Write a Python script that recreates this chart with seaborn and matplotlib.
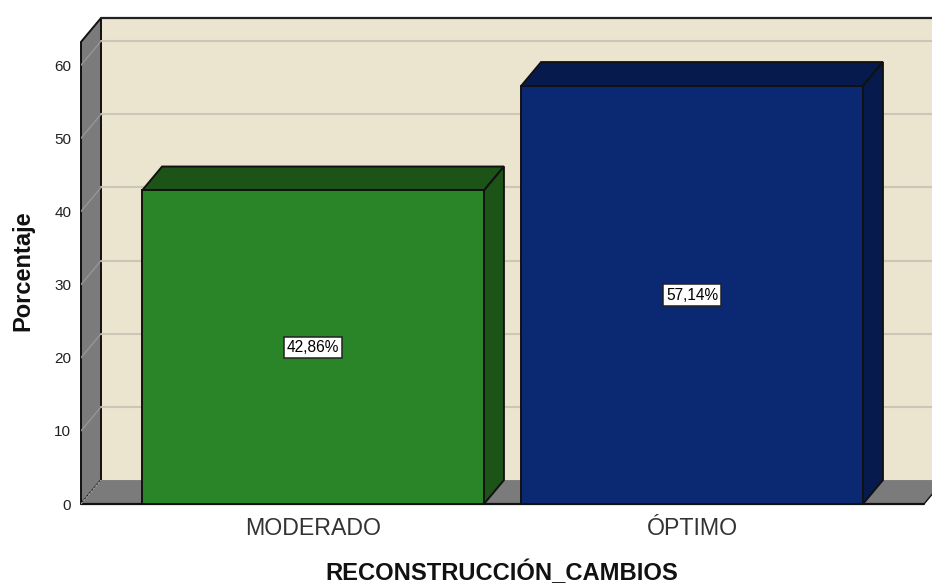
import matplotlib
matplotlib.use("Agg")
import matplotlib.pyplot as plt
from matplotlib.patches import Polygon, Rectangle
import pandas as pd
import seaborn as sns

categories = ["MODERADO", "ÓPTIMO"]
percentages = [42.86, 57.14]
value_labels = ["42,86%", "57,14%"]
y_ticks = [0, 10, 20, 30, 40, 50, 60]
x_title = "RECONSTRUCCIÓN_CAMBIOS"
y_title = "Porcentaje"

FRONT = ["#2A8529", "#0A2972"]
DARK = ["#1C5317", "#061A4E"]
WALL = "#EBE5CF"
SIDE = "#7B7B7B"
GRID = "#CBC6B8"
FONT = "Liberation Sans"

sns.set_theme(style="white")
plt.rcParams["font.family"] = [FONT, "DejaVu Sans"]

W, H = 932, 585
PX = 7.33
fig = plt.figure(figsize=(W / 100, H / 100), dpi=100, facecolor="white")
ax = fig.add_axes([81 / W, (H - 504) / H, (W - 81) / W, 486 / H])

df = pd.DataFrame({"cat": categories, "pct": percentages})
sns.barplot(data=df, x="cat", y="pct", hue="cat", palette=FRONT, legend=False,
            width=0.902, edgecolor="#111111", linewidth=1.4, saturation=1,
            zorder=5, ax=ax)

dx, dy = 20 / 379, 24 / PX        # depth of the 3-D box in data units
x0 = (81 - 313) / 379
x1 = (924 - 313) / 379
top = (504 - 41) / PX
xlim_right = (932 - 313) / 379
ax.set_xlim(x0, xlim_right)
ax.set_ylim(0, top + dy)

def poly(pts, fc, ec="#111111", lw=1.4, z=1, clip=True):
    p = Polygon(pts, closed=True, facecolor=fc, edgecolor=ec, linewidth=lw,
                zorder=z, clip_on=clip, joinstyle="miter")
    ax.add_patch(p)

# back wall, side wall and floor
ax.add_patch(Rectangle((x0 + dx, dy), x1 - x0 + dx, top, facecolor=WALL,
                       edgecolor="none", zorder=0.5))
poly([(x0, 0), (x0 + dx, dy), (x0 + dx, top + dy), (x0, top)], SIDE, clip=False)
poly([(x0, 0), (x1, 0), (x1 + dx, dy), (x0 + dx, dy)], SIDE, ec="none", lw=0)
ax.plot([x0, x1], [0, 0], color="#111111", lw=1.6, zorder=2, clip_on=False)
ax.plot([x1, x1 + dx], [0, dy], color="#111111", lw=1.0, zorder=2)
ax.plot([x0 + dx, xlim_right], [top + dy] * 2, color="#222222", lw=1.6,
        zorder=2, clip_on=False)
ax.plot([x0, x0 + dx], [0, dy], color="#A0A0A0", lw=0.9, ls=(0, (2, 1)), zorder=2)

# grid lines on wall
for v in y_ticks[1:]:
    ax.plot([x0 + dx, xlim_right], [v + dy, v + dy], color=GRID, lw=1.5, zorder=1.5)
    ax.plot([x0, x0 + dx], [v, v + dy], color="#969696", lw=1.0, zorder=1.5)

# 3-D faces of the bars, text boxes
for patch, dark, label, value in zip(ax.patches[:2], DARK, value_labels, percentages):
    xa = patch.get_x()
    xb = xa + patch.get_width()
    poly([(xa, value), (xb, value), (xb + dx, value + dy), (xa + dx, value + dy)], dark, z=4)
    poly([(xb, 0), (xb + dx, dy), (xb + dx, value + dy), (xb, value)], dark, z=4)
    ax.text((xa + xb) / 2, value / 2, label, ha="center", va="center",
            fontsize=11.2, color="black", zorder=6,
            bbox=dict(boxstyle="square,pad=0.2", facecolor="white",
                      edgecolor="#222222", linewidth=1.1))

sns.despine(ax=ax, left=True, bottom=True, top=True, right=True)
ax.set_yticks(y_ticks)
ax.set_xticks(range(len(categories)))
ax.set_xticklabels(categories)
ax.tick_params(axis="y", length=0, pad=7, labelsize=11, labelcolor="#222222")
ax.tick_params(axis="x", length=0, pad=9.5, labelsize=16.7, labelcolor="#333333")
ax.set_xlabel(x_title, fontsize=17.1, fontweight="bold", color="#111111", va="center")
ax.set_ylabel(y_title, fontsize=17, fontweight="bold", color="#111111", va="center")
ax.xaxis.set_label_coords(502 / W, 1 - 573 / H, transform=fig.transFigure)
ax.yaxis.set_label_coords(23 / W, 1 - 271 / H, transform=fig.transFigure)

fig.savefig("out.png", dpi=100, facecolor="white")
